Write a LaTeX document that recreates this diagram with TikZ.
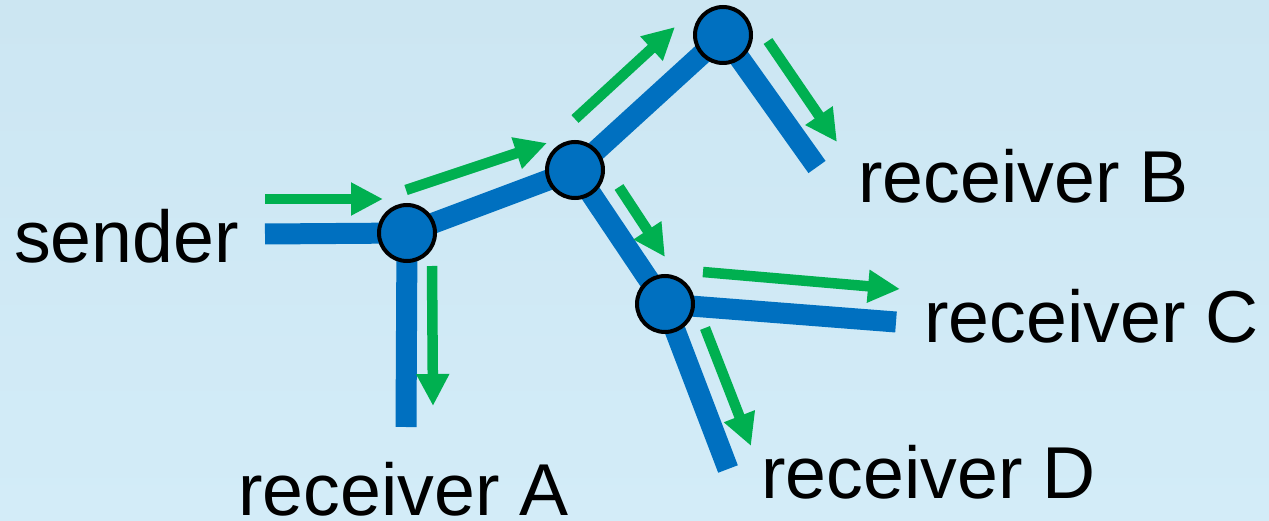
\documentclass[tikz,border=0pt]{standalone}
\usepackage{fontspec}
\setmainfont{Liberation Sans}
\usetikzlibrary{arrows.meta}
\definecolor{bgtop}{HTML}{CCE6F2}
\definecolor{bgbot}{HTML}{D3ECF8}
\definecolor{linkblue}{HTML}{0070C0}
\definecolor{flowgreen}{HTML}{00B050}
\begin{document}
\begin{tikzpicture}[x=1pt,y=-1pt,
  link/.style={draw=linkblue,line width=21pt,line cap=butt},
  router/.style={circle,fill=linkblue,draw=black,line width=4pt,minimum size=56pt,inner sep=0pt},
  flow/.style={draw=flowgreen,line width=10.5pt,-{Triangle[length=32pt,width=31pt]}},
  lbl/.style={inner sep=0pt,anchor=base west,font=\fontsize{73.5}{80}\selectfont}]
\useasboundingbox (0,0) rectangle (1269,521);
\shade[top color=bgtop,bottom color=bgbot] (0,0) rectangle (1269,521);
% routers
\coordinate (n1) at (407,233);
\coordinate (n2) at (575,170);
\coordinate (n3) at (723,35);
\coordinate (n4) at (665,304);
% link ends
\coordinate (sEnd) at (265,234);
\coordinate (aEnd) at (406,427);
\coordinate (bEnd) at (817,167);
\coordinate (cEnd) at (896,322);
\coordinate (dEnd) at (728,469);
% links
\draw[link] (sEnd) -- (n1);
\draw[link] (n1) -- (aEnd);
\draw[link] (n1) -- (n2);
\draw[link] (n2) -- (n3);
\draw[link] (n3) -- (bEnd);
\draw[link] (n2) -- (n4);
\draw[link] (n4) -- (cEnd);
\draw[link] (n4) -- (dEnd);
% router circles
\node[router] (r1) at (n1) {};
\node[router] (r2) at (n2) {};
\node[router] (r3) at (n3) {};
\node[router] (r4) at (n4) {};
% flow arrow coordinates
\coordinate (f1a) at (265,199);   \coordinate (f1b) at (383,199);
\coordinate (f2a) at (406,190);   \coordinate (f2b) at (547,143);
\coordinate (f3a) at (575,119);   \coordinate (f3b) at (675,27);
\coordinate (f4a) at (768,41);    \coordinate (f4b) at (837,142);
\coordinate (f5a) at (619,187);   \coordinate (f5b) at (665,257);
\coordinate (f6a) at (703,272);   \coordinate (f6b) at (900,289);
\coordinate (f7a) at (705,328);   \coordinate (f7b) at (751,446);
\coordinate (f8a) at (432,266);   \coordinate (f8b) at (433,406);
\draw[flow] (f1a) -- (f1b);
\draw[flow] (f2a) -- (f2b);
\draw[flow] (f3a) -- (f3b);
\draw[flow] (f4a) -- (f4b);
\draw[flow] (f5a) -- (f5b);
\draw[flow] (f6a) -- (f6b);
\draw[flow] (f7a) -- (f7b);
\draw[flow] (f8a) -- (f8b);
% labels
\node[lbl] (sender) at (14,263) {sender};
\node[lbl] (recA) at (238,515) {receiver A};
\node[lbl] (recB) at (858,203) {receiver B};
\node[lbl] (recC) at (924,342) {receiver C};
\node[lbl] (recD) at (761,498) {receiver D};
\end{tikzpicture}
\end{document}
